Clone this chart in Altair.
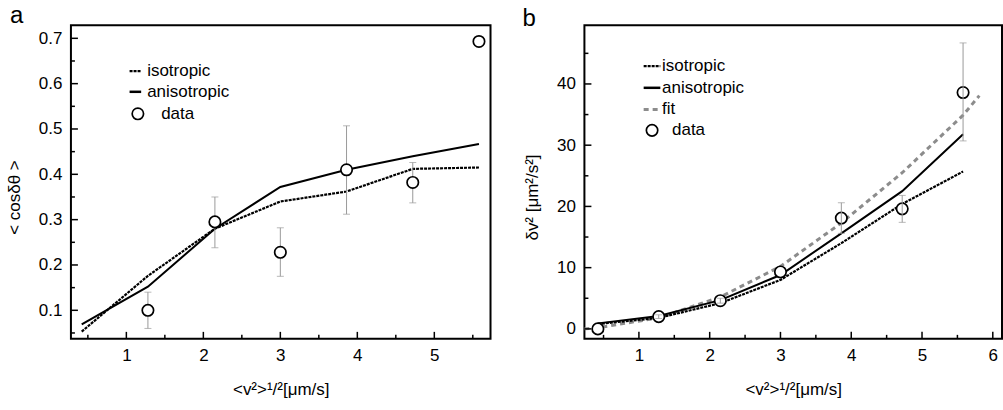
import altair as alt
import pandas as pd

FONT = "Liberation Sans"

# ---------------- data ----------------
x_vals = [0.42, 1.28, 2.15, 3.0, 3.86, 4.72, 5.58]

# panel a
a_iso = [0.053, 0.176, 0.280, 0.340, 0.362, 0.412, 0.415]
a_aniso = [0.069, 0.152, 0.280, 0.372, 0.410, 0.440, 0.467]
a_data_x = [1.28, 2.15, 3.0, 3.86, 4.72, 5.58]
a_data_y = [0.100, 0.295, 0.228, 0.410, 0.382, 0.693]
a_err_x = [1.28, 2.15, 3.0, 3.86, 4.72]
a_err_lo = [0.060, 0.238, 0.175, 0.312, 0.337]
a_err_hi = [0.140, 0.350, 0.282, 0.507, 0.426]

# panel b
b_iso = [0.8, 1.8, 4.2, 8.0, 14.0, 20.4, 25.7]
b_aniso = [0.9, 2.1, 4.7, 8.8, 15.6, 22.5, 31.8]
b_fit_x = [0.23, 0.42, 1.28, 2.15, 3.0, 3.86, 4.72, 5.58, 5.81]
b_fit_y = [0.0, 0.2, 1.8, 5.2, 10.2, 17.3, 25.5, 34.9, 38.1]
b_data_y = [0.0, 2.0, 4.6, 9.3, 18.1, 19.6, 38.6]
b_err_x = [1.28, 2.15, 3.86, 4.72, 5.58]
b_err_lo = [1.7, 4.2, 15.6, 17.4, 30.7]
b_err_hi = [2.3, 5.0, 20.6, 21.8, 46.7]

# axes
a_xticks = [1, 2, 3, 4, 5]
a_xminor = [0.5, 1.5, 2.5, 3.5, 4.5, 5.5]
a_yticks = [0.1, 0.2, 0.3, 0.4, 0.5, 0.6, 0.7]
a_yminor = [0.05, 0.15, 0.25, 0.35, 0.45, 0.55, 0.65]
b_xticks = [1, 2, 3, 4, 5, 6]
b_xminor = [0.5, 1.5, 2.5, 3.5, 4.5, 5.5]
b_yticks = [0, 10, 20, 30, 40]
b_yminor = [5, 15, 25, 35, 45]

x_title = "<v²>¹/²[μm/s]"
a_ytitle = "< cosδθ >"
b_ytitle = "δv² [μm²/s²]"

a_leg = ["isotropic", "anisotropic", "data"]
b_leg = ["isotropic", "anisotropic", "fit", "data"]

ISO_DASH = [3, 1]


def make_panel(W, H, xdom, ydom, xticks, xminor, yticks, yminor, xfmt, yfmt,
               ytitle, lines, pts, errs, errs_on_top, legend, label, label_pos):
    xs = alt.Scale(domain=xdom, nice=False, zero=False)
    ys = alt.Scale(domain=ydom, nice=False, zero=False)
    xaxis = alt.Axis(values=xticks, format=xfmt, ticks=False, domain=False, grid=False,
                     labelFontSize=17, labelPadding=9, labelFont=FONT, labelColor="black",
                     title=x_title, titleFontSize=17, titleFontWeight="normal",
                     titleFont=FONT, titleColor="black", titlePadding=18)
    yaxis = alt.Axis(values=yticks, format=yfmt, ticks=False, domain=False, grid=False,
                     labelFontSize=17, labelPadding=9, labelFont=FONT, labelColor="black",
                     title=ytitle, titleFontSize=17, titleFontWeight="normal",
                     titleFont=FONT, titleColor="black", titlePadding=15, titleY=172)

    def X(f):
        return alt.X(f, type="quantitative", scale=xs, axis=xaxis)

    def Y(f):
        return alt.Y(f, type="quantitative", scale=ys, axis=yaxis)

    layers = []
    # curves
    for (lx, ly, color, width, dash) in lines:
        df = pd.DataFrame({"x": lx, "y": ly})
        kw = dict(color=color, strokeWidth=width)
        if dash:
            kw["strokeDash"] = dash
        layers.append(alt.Chart(df).mark_line(**kw).encode(x=X("x"), y=Y("y")))

    ex, elo, ehi = errs
    edf = pd.DataFrame({"x": ex, "lo": elo, "hi": ehi})
    err_layers = [
        alt.Chart(edf).mark_rule(color="#9a9a9a", strokeWidth=1).encode(
            x=X("x"), y=Y("lo"), y2="hi"),
        alt.Chart(edf).mark_tick(color="#9a9a9a", thickness=1, size=7, orient="horizontal").encode(
            x=X("x"), y=Y("lo")),
        alt.Chart(edf).mark_tick(color="#9a9a9a", thickness=1, size=7, orient="horizontal").encode(
            x=X("x"), y=Y("hi")),
    ]
    px, py = pts
    pdf = pd.DataFrame({"x": px, "y": py})
    pt_layer = alt.Chart(pdf).mark_point(shape="circle", filled=True, fill="white",
                                         stroke="black", strokeWidth=1.7, size=130,
                                         opacity=1).encode(x=X("x"), y=Y("y"))
    if errs_on_top:
        layers += [pt_layer] + err_layers
    else:
        layers += err_layers + [pt_layer]

    # inward ticks
    layers.append(alt.Chart(pd.DataFrame({"t": xticks})).mark_rule(color="black", strokeWidth=1.5)
                  .encode(x=X("t"), y=alt.value(H), y2=alt.value(H - 7)))
    layers.append(alt.Chart(pd.DataFrame({"t": xminor})).mark_rule(color="black", strokeWidth=1.5)
                  .encode(x=X("t"), y=alt.value(H), y2=alt.value(H - 4)))
    layers.append(alt.Chart(pd.DataFrame({"t": yticks})).mark_rule(color="black", strokeWidth=1.5)
                  .encode(y=Y("t"), x=alt.value(0), x2=alt.value(7)))
    layers.append(alt.Chart(pd.DataFrame({"t": yminor})).mark_rule(color="black", strokeWidth=1.5)
                  .encode(y=Y("t"), x=alt.value(0), x2=alt.value(4)))

    # manual legend
    for item in legend:
        kind, name, lx0, lx1, ly, tx = item[:6]
        ldf = pd.DataFrame({"label": [name]})
        if kind == "line":
            color, width, dash = item[6:]
            kw = dict(color=color, strokeWidth=width)
            if dash:
                kw["strokeDash"] = dash
            layers.append(alt.Chart(ldf).mark_rule(**kw).encode(
                x=alt.value(lx0), x2=alt.value(lx1), y=alt.value(ly)))
        else:
            layers.append(alt.Chart(ldf).mark_point(shape="circle", filled=True, fill="white",
                                                    stroke="black", strokeWidth=1.7, size=130,
                                                    opacity=1).encode(
                x=alt.value(lx0), y=alt.value(ly)))
        layers.append(alt.Chart(ldf).mark_text(align="left", baseline="middle", font=FONT,
                                               fontSize=17, color="black").encode(
            text="label:N", x=alt.value(tx), y=alt.value(ly)))

    # panel letter
    layers.append(alt.Chart(pd.DataFrame({"label": [label]})).mark_text(
        align="left", baseline="alphabetic", font=FONT, fontSize=24, color="black").encode(
        text="label:N", x=alt.value(label_pos[0]), y=alt.value(label_pos[1])))

    return alt.layer(*layers).properties(width=W, height=H)


panel_a = make_panel(
    420, 314, [0.28, 5.73], [0.037, 0.729],
    a_xticks, a_xminor, a_yticks, a_yminor, "d", ".1f", a_ytitle,
    lines=[(x_vals, a_iso, "black", 2.2, ISO_DASH),
           (x_vals, a_aniso, "black", 2, None)],
    pts=(a_data_x, a_data_y),
    errs=(a_err_x, a_err_lo, a_err_hi), errs_on_top=False,
    legend=[("line", a_leg[0], 58.7, 70.3, 46, 76.3, "black", 2.2, ISO_DASH),
            ("line", a_leg[1], 58.7, 70.3, 66.7, 76.3, "black", 2.5, None),
            ("pt", a_leg[2], 67, 67, 88.7, 90.3)],
    label="a", label_pos=(-61, -2),
)

panel_b = make_panel(
    418, 314, [0.23, 6.13], [-1.63, 49.6],
    b_xticks, b_xminor, b_yticks, b_yminor, "d", "d", b_ytitle,
    lines=[(b_fit_x, b_fit_y, "#8c8c8c", 3, [5, 4]),
           (x_vals, b_iso, "black", 2.2, ISO_DASH),
           (x_vals, b_aniso, "black", 2, None)],
    pts=(x_vals, b_data_y),
    errs=(b_err_x, b_err_lo, b_err_hi), errs_on_top=True,
    legend=[("line", b_leg[0], 59.3, 76, 41, 77.7, "black", 2.2, ISO_DASH),
            ("line", b_leg[1], 59.3, 76, 62.7, 77.7, "black", 2.5, None),
            ("line", b_leg[2], 59.3, 76, 84.3, 77.7, "#8c8c8c", 3, [5, 4]),
            ("pt", b_leg[3], 67.7, 67.7, 105.3, 87.7)],
    label="b", label_pos=(-62, 1),
)

chart = alt.hconcat(panel_a, panel_b, spacing=30).properties(
    padding={"left": 4, "top": 3, "right": 0, "bottom": 0},
    background="white",
).configure_view(stroke="black", strokeWidth=2)

chart.save("out.html", embed_options={"renderer": "svg", "actions": False})
